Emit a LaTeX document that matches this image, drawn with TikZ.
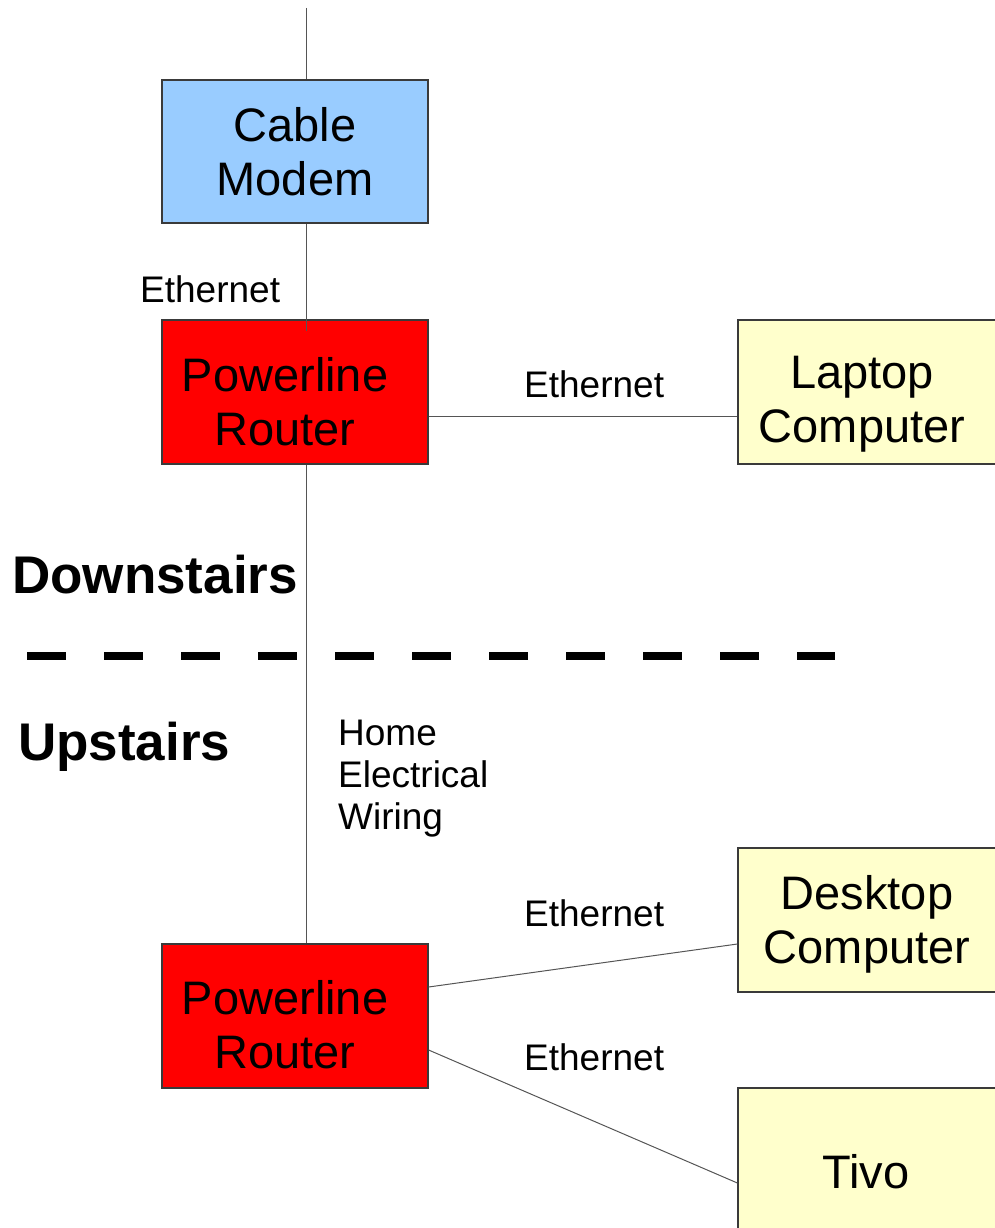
\documentclass[tikz,border=0pt]{standalone}
\usepackage{fontspec}
\setmainfont{Liberation Sans}
\usetikzlibrary{calc}
\definecolor{modemblue}{HTML}{99CCFF}
\definecolor{routerred}{HTML}{FF0000}
\definecolor{devyellow}{HTML}{FFFFCC}
\definecolor{edgegray}{HTML}{3A3A3A}
\definecolor{wiregray}{HTML}{555555}
\newcommand{\boxtext}[3]{\raisebox{#1}[\height][\depth]{\parbox{#2}{\centering #3}}}
\tikzset{
  box/.style={draw=edgegray, line width=1.2pt, minimum width=266pt, minimum height=144pt, inner sep=0pt, align=center, font=\fontsize{47}{54}\selectfont},
  modembox/.style={box, fill=modemblue, minimum height=143pt},
  routerbox/.style={box, fill=routerred},
  devbox/.style={box, fill=devyellow, minimum width=260pt},
  wire/.style={draw=wiregray, line width=1pt},
  lbl/.style={inner sep=0pt, anchor=base west, font=\fontsize{37}{42}\selectfont},
  floorlbl/.style={inner sep=0pt, anchor=base west, font=\fontsize{53}{60}\selectfont\bfseries},
  floorline/.style={line width=8pt, dash pattern=on 39pt off 38pt}
}
\begin{document}
\begin{tikzpicture}[x=1pt,y=-1pt]
\useasboundingbox (0,0) rectangle (995,1228);
\clip (0,0) rectangle (995,1228);
\coordinate (top) at (306,8);
\node[modembox] (modem) at (295,151.5) {Cable\\Modem};
\node[routerbox] (router1) at (295,392) {\boxtext{-10pt}{266pt}{\hspace*{-20pt}Powerline\\\hspace*{-20pt}Router}};
\node[devbox] (laptop) at (868,392) {\boxtext{-12pt}{260pt}{\hspace*{-12pt}Laptop\\\hspace*{-12pt}Computer}};
\node[routerbox] (router2) at (295,1016) {\boxtext{-9pt}{266pt}{\hspace*{-20pt}Powerline\\\hspace*{-20pt}Router}};
\node[devbox] (desktop) at (868,920) {\boxtext{-4pt}{260pt}{\hspace*{-2pt}Desktop\\\hspace*{-2pt}Computer}};
\node[devbox] (tivo) at (868,1160) {\boxtext{-12pt}{260pt}{\hspace*{-4pt}Tivo}};
% connectors
\draw[wire] (top) -- (top |- modem.north);
\draw[wire] (top |- modem.south) -- ($(top |- router1.north)+(0,12)$);
\draw[wire] (top |- router1.south) -- (top |- router2.north);
\draw[wire] ([yshift=-24pt]router1.east) -- ([yshift=-24pt]laptop.west);
\draw[wire] ([yshift=29pt]router2.east) -- ([yshift=-24pt]desktop.west);
\draw[wire] ([yshift=-34pt]router2.east) -- ([yshift=-23pt]tivo.west);
% labels
\node[lbl] (eth1) at (140,302) {Ethernet};
\node[lbl] (eth2) at (524,397) {Ethernet};
\node[lbl] (eth3) at (524,926) {Ethernet};
\node[lbl] (eth4) at (524,1070) {Ethernet};
\node[inner sep=0pt, anchor=north west, align=left, font=\fontsize{37}{42}\selectfont] (wiring) at (338,720) {Home\\Electrical\\Wiring};
\node[floorlbl] (down) at (12,593) {Downstairs};
\node[floorlbl] (up) at (18,760) {Upstairs};
% floor separator
\coordinate (sepL) at (27,656);
\coordinate (sepR) at (835,656);
\draw[floorline] (sepL) -- (sepR);
\end{tikzpicture}
\end{document}
